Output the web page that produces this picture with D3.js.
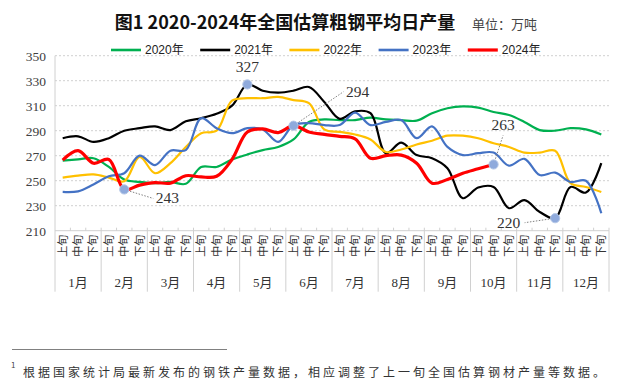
<!DOCTYPE html>
<html><head><meta charset="utf-8">
<script src="https://cdn.jsdelivr.net/npm/d3@7"></script>
<style>
body{margin:0;background:#fff;}
svg{display:block;}
</style></head>
<body>
<svg id="c" width="620" height="381"></svg>
<script>
const months = ["1月","2月","3月","4月","5月","6月","7月","8月","9月","10月","11月","12月"];
const dekads = ["上旬","中旬","下旬"];
const yTicks = [210,230,250,270,290,310,330,350];
const seriesNames = ["2020年","2021年","2022年","2023年","2024年"];
const v2020 = [266,267,268,261,251,249,248,249,247.5,261,261,267,271,274.5,277,283,297,299,298.5,298.5,300.5,299,298.5,298,304,308,309.5,308.5,305,302.5,297,290.5,290,292,291,287];
const v2021 = [284,285.5,281,284,290,292,293.5,290.5,297.5,300,303.5,310,327,322,320.5,322,325,313,299.5,305.5,304,272,280.5,270.5,268,260,236,244.5,245,228,234.5,225,220,245,240.5,264];
const v2022 = [252.5,254,255,252.5,249.5,269,256,264,277,288,290,314,316,316,317,314.5,312,291,289,287,283,273,275,279,282,286,286,284,280,277,272.5,272.5,274,248,245,241];
const v2023 = [241,241.5,247,253.5,256,270,262.5,274,274.5,300,292,288,292,291,281,294.5,296,294.5,294.5,304.5,294.5,297,298.5,284,293.5,277,270.5,272,272.5,262,267.5,254.5,256.5,249,250,224];
const v2024 = [266.5,274,264,267,243,246.5,248.5,248,254,253,253.5,267,289,291.5,288.5,294,289,287,285.5,283.5,268,270,270.5,264,248,251,256,259.5,263];
// annotated points: [series index, dekad index]
const annotations = [[4,4],[1,12],[4,15],[4,28],[1,32]];

const colors = ["#00B050","#000000","#FFC000","#4472C4","#FF0000"];
const widths = [2.2,2.2,2.2,2.2,3.2];
const allValues = [v2020,v2021,v2022,v2023,v2024];

const keys = [];
months.forEach((m,mi)=>dekads.forEach((d,di)=>keys.push(mi*3+di)));

const svg = d3.select("#c");
const L=55, R=609, T=55.7, B=230.7;
const x = d3.scaleBand().domain(keys).range([L,R]).padding(0);
const y = d3.scaleLinear().domain([210,350]).range([B,T]);
const serif = "'Liberation Serif','DejaVu Serif','Noto Sans CJK SC',serif";
const cjk = "'Noto Sans CJK SC','Noto Sans',sans-serif";

// title
svg.append("text").attr("x",285).attr("y",29).attr("text-anchor","middle")
  .style("font-family",cjk).style("font-size","18px").style("font-weight","bold").attr("fill","#111")
  .text("图1 2020-2024年全国估算粗钢平均日产量");
svg.append("text").attr("x",472).attr("y",29)
  .style("font-family",cjk).style("font-size","13px").attr("fill","#444")
  .text("单位：万吨");

// gridlines
svg.append("g").selectAll("line").data(yTicks.filter(t=>t>210)).join("line")
  .attr("x1",L).attr("x2",R).attr("y1",d=>y(d)).attr("y2",d=>y(d))
  .attr("stroke","#D0D0D0").attr("stroke-width",1).attr("stroke-dasharray","2,2");

// y axis
const ya = d3.axisLeft(y).tickValues(yTicks).tickSize(0).tickPadding(9);
const yg = svg.append("g").attr("transform",`translate(${L},0)`).call(ya);
yg.select(".domain").remove();
yg.selectAll("text").style("font-family",serif).style("font-size","13.5px").attr("fill","#404040");
svg.append("line").attr("x1",L).attr("x2",L).attr("y1",T).attr("y2",B+61).attr("stroke","#D0D0D0");

// x axis line and ticks
svg.append("line").attr("x1",L).attr("x2",R).attr("y1",B).attr("y2",B).attr("stroke","#D0D0D0");
svg.append("g").selectAll("line").data(keys.slice(1)).join("line")
  .attr("x1",d=>x(d)).attr("x2",d=>x(d)).attr("y1",B-3).attr("y2",d=>d%3===0?B+61:B)
  .attr("stroke","#D0D0D0");
svg.append("line").attr("x1",R).attr("x2",R).attr("y1",B-3).attr("y2",B+61).attr("stroke","#D0D0D0");

// dekad labels
svg.append("g").selectAll("text").data(keys).join("text")
  .attr("transform",d=>`translate(${x(d)+x.bandwidth()/2-1},${B+4}) rotate(-90)`)
  .attr("text-anchor","end").attr("dominant-baseline","central")
  .style("font-family",cjk).style("font-size","11px").attr("fill","#333")
  .text(d=>dekads[d%3]);
// month labels
svg.append("g").selectAll("text").data(months).join("text")
  .attr("x",(d,i)=>x(i*3)+x.bandwidth()*1.5).attr("y",B+56)
  .attr("text-anchor","middle")
  .style("font-family",serif).style("font-size","13px").attr("fill","#333")
  .text(d=>d);

// lines
const line = d3.line().x((d,i)=>x(i)+x.bandwidth()/2).y(d=>y(d)).curve(d3.curveCatmullRom.alpha(0.5));
allValues.forEach((vals,si)=>{
  svg.append("path").datum(vals).attr("d",line).attr("fill","none")
    .attr("stroke",colors[si]).attr("stroke-width",widths[si]).attr("stroke-linejoin","round");
});

// legend
const lg = svg.append("g");
seriesNames.forEach((n,i)=>{
  const lx = 111 + i*89.2, ly = 50;
  lg.append("line").attr("x1",lx).attr("x2",lx+30).attr("y1",ly).attr("y2",ly)
    .attr("stroke",colors[i]).attr("stroke-width",i===4?3.2:2.6);
  lg.append("text").attr("x",lx+34).attr("y",ly).attr("dominant-baseline","central")
    .style("font-family","'Liberation Sans','Noto Sans CJK SC',sans-serif").style("font-size","12px").attr("fill","#222")
    .text(n);
});

// annotations: offsets of label and leader end relative to the point
const annOffsets = [
  {lx:43, ly:8, ex:29, ey:9},
  {lx:0, ly:-18, ex:null},
  {lx:64, ly:-34, ex:50, ey:-34},
  {lx:9.5, ly:-39.5, ex:9.5, ey:-29},
  {lx:-46.5, ly:4.5, ex:-30.5, ey:4.5}
];
annotations.forEach((a,k)=>{
  const [si,di] = a;
  const v = allValues[si][di];
  const px = x(di)+x.bandwidth()/2, py = y(v);
  const o = annOffsets[k];
  if(o.ex!==null){
    svg.append("line").attr("x1",px).attr("y1",py).attr("x2",px+o.ex).attr("y2",py+o.ey)
      .attr("stroke","#808080").attr("stroke-width",1).attr("stroke-dasharray","1.5,1.5");
  }
  svg.append("circle").attr("cx",px).attr("cy",py).attr("r",4.6)
    .attr("fill","#8FAADC").attr("stroke","#B4C7E7").attr("stroke-width",1);
  svg.append("text").attr("x",px+o.lx).attr("y",py+o.ly).attr("text-anchor","middle")
    .attr("dominant-baseline","central")
    .style("font-family",serif).style("font-size","15.5px").attr("fill","#333")
    .text(v);
});

// footnote
svg.append("line").attr("x1",12).attr("x2",227).attr("y1",349.5).attr("y2",349.5).attr("stroke","#808080").attr("stroke-width",1);
svg.append("text").attr("x",11).attr("y",368).style("font-family",cjk).style("font-size","8px").attr("fill","#444").text("1");
svg.append("text").attr("x",23).attr("y",371).attr("dominant-baseline","central")
  .style("font-family",cjk).style("font-size","12px").style("letter-spacing","3px").attr("fill","#333")
  .text("根据国家统计局最新发布的钢铁产量数据，相应调整了上一旬全国估算钢材产量等数据。");
</script>
</body></html>
